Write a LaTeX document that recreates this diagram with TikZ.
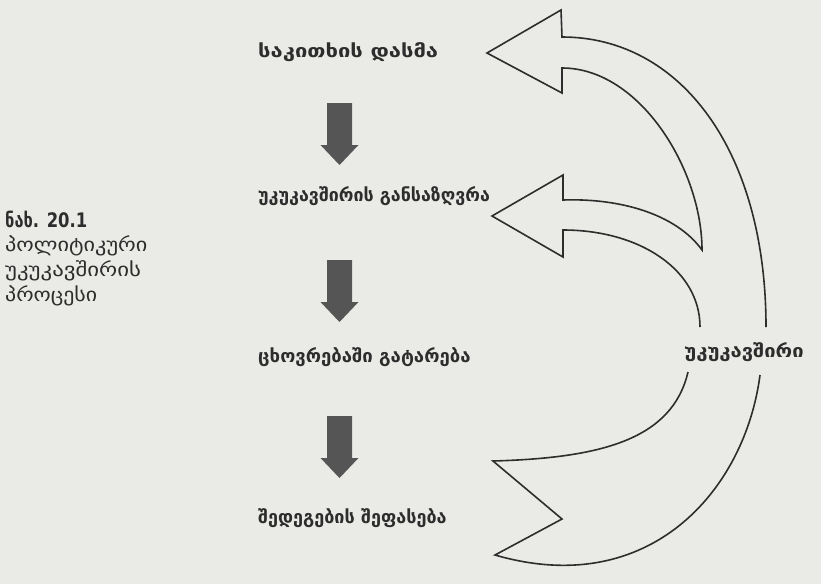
\documentclass[tikz,border=0pt]{standalone}
\usepackage{fontspec}
\setmainfont{DejaVu Sans}
\definecolor{paper}{RGB}{234,234,231}
\definecolor{ink}{RGB}{45,45,45}
\definecolor{blockgray}{RGB}{85,85,85}
\newcommand{\wide}[2]{\scalebox{#1}[1]{#2}}
\begin{document}
\begin{tikzpicture}[x=1pt,y=-1pt,
  steptext/.style={anchor=west,inner sep=0pt,font=\bfseries\fontsize{18}{20}\selectfont,text=ink},
  captext/.style={anchor=west,inner sep=0pt,font=\fontsize{19}{21}\selectfont,text=ink},
  outline/.style={draw=ink,line width=1.6pt,line join=miter},
  downarrow/.pic={\fill[blockgray] (-12.5,0) -- (12.5,0) -- (12.5,42) -- (19,42) -- (0,62) -- (-19,42) -- (-12.5,42) -- cycle;}]
\fill[paper] (0,0) rectangle (821,584);
\useasboundingbox (0,0) rectangle (821,584);
% step labels
\node[steptext] (s1) at (258,52) {\wide{1.22}{საკითხის დასმა}};
\node[steptext] (s2) at (258,196) {\wide{0.99}{უკუკავშირის განსაზღვრა}};
\node[steptext] (s3) at (258,357) {\wide{1.03}{ცხოვრებაში გატარება}};
\node[steptext] (s4) at (258,518) {\wide{1.0}{შედეგების შეფასება}};
% caption
\node[captext,font=\bfseries\fontsize{20}{22}\selectfont] (c0) at (5,219) {\wide{0.82}{ნახ. 20.1}};
\node[captext] (c1) at (5,246) {\wide{1.17}{პოლიტიკური}};
\node[captext] (c2) at (5,271) {\wide{1.2}{უკუკავშირის}};
\node[captext] (c3) at (5,296) {\wide{1.15}{პროცესი}};
% down arrows
\coordinate (d1) at (339.5,103);
\coordinate (d2) at (339.5,260);
\coordinate (d3) at (339.5,416);
\pic at (d1) {downarrow};
\pic at (d2) {downarrow};
\pic at (d3) {downarrow};
% feedback label
\node[steptext,anchor=center] (fb) at (744,352) {\wide{1.12}{უკუკავშირი}};
% feedback arrow, upper part with two heads
\draw[outline] (700,327) .. controls (700,270) and (640,230) .. (563,230)
  -- (563,257) -- (492,216) -- (563,175) -- (563,200)
  .. controls (620,198) and (676,214) .. (702,250)
  .. controls (702,170) and (640,68) .. (562,68)
  -- (562,93) -- (487,53) -- (561,10) -- (562,37)
  .. controls (680,37) and (766,150) .. (766,327);
% lower part with notched tail
\draw[outline] (688,372) .. controls (672,440) and (600,458) .. (493,461)
  -- (562,519) -- (495,555)
  .. controls (650,600) and (745,490) .. (760,375);
\end{tikzpicture}
\end{document}
